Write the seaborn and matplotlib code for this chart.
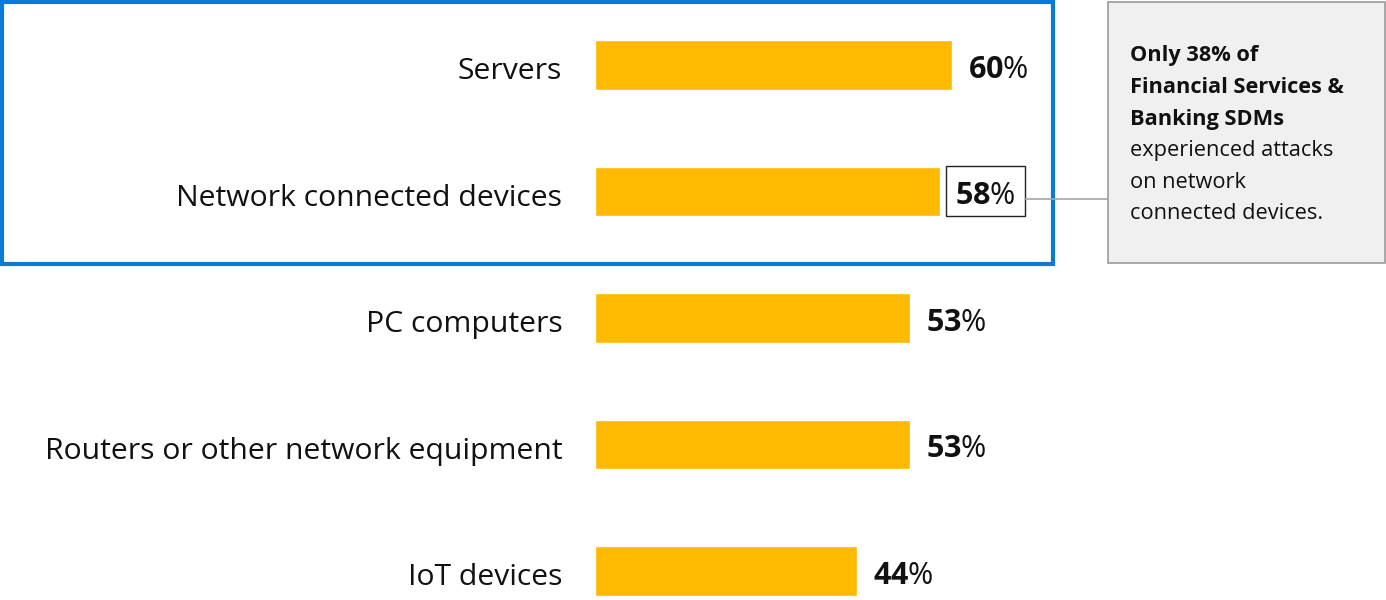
import pandas as pd
import numpy as np
import seaborn as sns
import matplotlib.pyplot as plt
from matplotlib.patches import Rectangle
from matplotlib.transforms import ScaledTranslation

# share of SDMs that experienced attacks, by device type
devices = ["Servers", "Network connected devices", "PC computers",
           "Routers or other network equipment", "IoT devices"]
pct = [60, 58, 53, 53, 44]

note_bold = ["Only 38% of", "Financial Services &", "Banking SDMs"]
note_plain = ["experienced attacks", "on network", "connected devices."]

df = pd.DataFrame({"device": devices, "pct": pct})

sns.set_style("white")
plt.rcParams['font.family'] = ['Open Sans', 'DejaVu Sans']
#mixed weight labels via mathtext (bold number, regular %)
plt.rcParams['mathtext.fontset'] = 'custom'
plt.rcParams['mathtext.rm'] = 'Open Sans'
plt.rcParams['mathtext.bf'] = 'Open Sans:bold'

W, H = 1386, 600
fig = plt.figure(figsize=(W / 100, H / 100), dpi=100)
#axes starts at bar base (x=595px) and runs to right edge
ax = fig.add_axes([595 / W, 0, 1 - 595 / W, 1])

sns.barplot(data=df, x="pct", y="device", color="#FFB900", saturation=1,
            width=0.395, ax=ax)

px_per_pct = 357 / 60
ax.set_xlim(0, (W - 595) / px_per_pct)
ax.set_ylim(4 + 29 / 126.5, -65 / 126.5)

for pos in ['right', 'top', 'left', 'bottom']:
    ax.spines[pos].set_visible(False)
ax.set_xticks([])
ax.set(xlabel=None, ylabel=None)
ax.tick_params(axis='y', length=0, pad=23.5, labelsize=21.7)
shift = ScaledTranslation(0, -3 / 100, fig.dpi_scale_trans)
for t in ax.get_yticklabels():
    t.set_color('#111111')
    t.set_transform(t.get_transform() + shift)

#value labels
for i, v in enumerate(pct):
    off = 16 if i != 1 else 15
    ax.annotate(r"$\mathbf{%d}$%%" % v, xy=(v, i), xytext=(off * 0.72, -4.5 * 0.72),
                textcoords='offset points', ha='left', va='center',
                fontsize=22, color='#111111')

# highlight box around the first two rows
fig.patches.append(Rectangle((1.5 / W, 1 - 263.5 / H), 1051 / W, 262 / H,
                             transform=fig.transFigure, fill=False,
                             edgecolor='#0A7AD6', linewidth=3))

# box round the 58% label
fig.patches.append(Rectangle((946 / W, 1 - 216 / H), 79 / W, 50 / H,
                             transform=fig.transFigure, fill=False,
                             edgecolor='#222222', linewidth=1))

# connector and callout
fig.lines.append(plt.Line2D([1025 / W, 1108 / W], [1 - 199 / H, 1 - 199 / H],
                            transform=fig.transFigure, color='#A6A6A6', linewidth=1.2))
fig.patches.append(Rectangle((1108 / W, 1 - 263 / H), 277 / W, 261 / H,
                             transform=fig.transFigure, facecolor='#F0F0F0',
                             edgecolor='#9A9A9A', linewidth=1.2))

y0 = 56
for k, line in enumerate(note_bold + note_plain):
    fig.text(1130 / W, 1 - (y0 + 31.5 * k) / H, line, ha='left', va='center',
             fontsize=15.7, fontweight='bold' if k < 3 else 'normal', color='#111111')

fig.savefig("out.png", dpi=100)
